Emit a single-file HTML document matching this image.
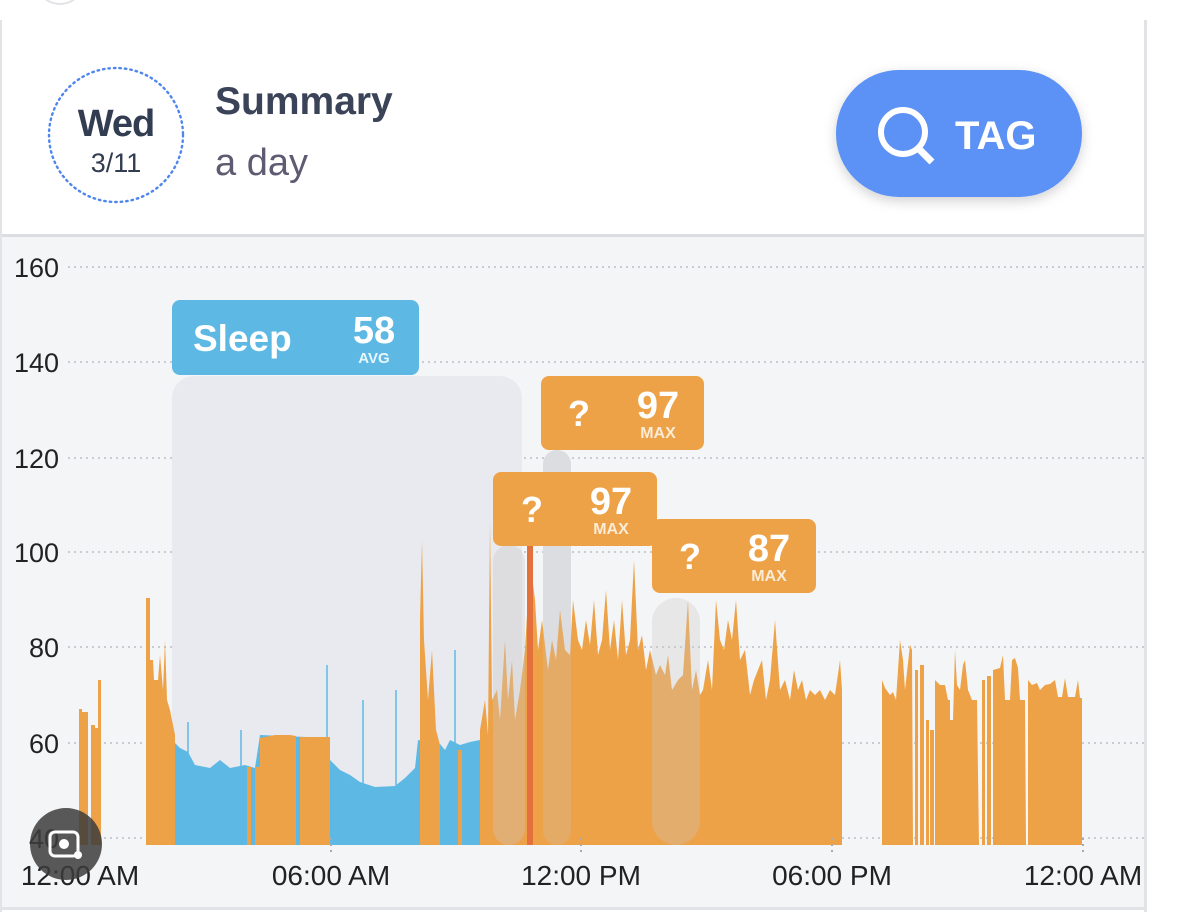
<!DOCTYPE html>
<html><head><meta charset="utf-8"><style>
html,body{margin:0;padding:0;background:#fff;width:1186px;height:912px;overflow:hidden}
svg text{font-family:"Liberation Sans",Arial,sans-serif}
</style></head><body>
<svg width="1186" height="912" viewBox="0 0 1186 912" xmlns="http://www.w3.org/2000/svg">
<defs>
<filter id="sh" x="-20%" y="-30%" width="140%" height="160%"><feDropShadow dx="0" dy="4" stdDeviation="6" flood-color="#000" flood-opacity="0.18"/></filter>
</defs>
<rect width="1186" height="912" fill="#fff"/>
<circle cx="60" cy="-20" r="24" fill="none" stroke="#e2e3e6" stroke-width="2"/>
<rect x="1144" y="20" width="3" height="892" fill="#e2e3e6"/>
<rect x="0" y="20" width="2" height="892" fill="#e2e3e6"/>
<!-- header -->
<circle cx="116" cy="135" r="67" fill="none" stroke="#4e86ee" stroke-width="2.4" stroke-dasharray="1.5 4" stroke-linecap="round"/>
<text x="116" y="136" text-anchor="middle" font-size="38" font-weight="bold" fill="#333d52" letter-spacing="-1">Wed</text>
<text x="116" y="172" text-anchor="middle" font-size="27" fill="#333d52">3/11</text>
<text x="215" y="114" font-size="39" font-weight="bold" fill="#3b4358">Summary</text>
<text x="215" y="175" font-size="38" fill="#5f5b72">a day</text>
<rect x="836" y="70" width="246" height="127" rx="63" fill="#5b91f5" filter="url(#sh)"/>
<circle cx="903" cy="132" r="22" fill="none" stroke="#fff" stroke-width="6"/>
<line x1="918" y1="148" x2="932" y2="162" stroke="#fff" stroke-width="7"/>
<text x="955" y="149" font-size="40" font-weight="bold" fill="#fff">TAG</text>
<!-- chart bg -->
<rect x="2" y="234" width="1142" height="3" fill="#dcdde0"/>
<rect x="2" y="237" width="1142" height="670" fill="#f4f5f7"/>
<rect x="2" y="907" width="1142" height="3" fill="#e2e3e6"/>
<g stroke="#c9ccd2" stroke-width="2" stroke-dasharray="2 4">
<line x1="68" y1="267" x2="1144" y2="267"/><line x1="68" y1="362" x2="1144" y2="362"/>
<line x1="68" y1="458" x2="1144" y2="458"/><line x1="68" y1="552" x2="1144" y2="552"/>
<line x1="68" y1="647" x2="1144" y2="647"/><line x1="68" y1="743" x2="1144" y2="743"/>
<line x1="68" y1="838" x2="1144" y2="838"/>
</g>
<g font-size="27" fill="#222" text-anchor="end">
<text x="59" y="277">160</text><text x="59" y="372">140</text><text x="59" y="468">120</text>
<text x="59" y="562">100</text><text x="59" y="657">80</text><text x="59" y="753">60</text><text x="59" y="848">40</text>
</g>
<g font-size="28" fill="#222" text-anchor="middle">
<text x="80" y="885">12:00 AM</text><text x="331" y="885">06:00 AM</text><text x="581" y="885">12:00 PM</text>
<text x="832" y="885">06:00 PM</text><text x="1083" y="885">12:00 AM</text>
</g>
<!-- sleep region -->
<rect x="172" y="376" width="350" height="469" rx="22" fill="#e9eaef"/>
<rect x="543" y="450" width="28" height="395" rx="14" fill="#e3e5ea"/>
<!-- blue -->
<path fill="#5db9e4" d="M172,845 L172,740 L180,748 L188,752 L195,765 L210,768 L220,760 L230,768 L245,765 L255,768 L260,735 L330,738 L330,760 L340,770 L350,775 L360,782 L375,787 L395,786 L405,778 L415,768 L418,740 L440,744 L445,750 L450,740 L460,745 L470,742 L480,740 L480,845 Z"/>
<g stroke="#5db9e4" stroke-width="1.5"><line x1="188" y1="845" x2="188" y2="722"/><line x1="241" y1="845" x2="241" y2="730"/><line x1="327" y1="845" x2="327" y2="665"/><line x1="363" y1="845" x2="363" y2="700"/><line x1="396" y1="845" x2="396" y2="690"/><line x1="455" y1="845" x2="455" y2="650"/></g>
<!-- orange -->
<g fill="#eea247">
<rect x="79" y="709" width="3" height="136"/><rect x="82" y="712" width="6" height="133"/>
<rect x="91" y="725" width="4" height="120"/><rect x="95" y="728" width="3" height="117"/><rect x="98" y="680" width="3" height="165"/>
<path d="M146,845 L146,598 L150,598 L150,660 L153,660 L154,680 L158,680 L160,655 L163,690 L165,640 L167,700 L170,710 L175,735 L175,845 Z"/>
<rect x="247" y="767" width="4" height="78"/><rect x="255" y="767" width="5" height="78"/>
<path d="M260,845 L260,738 L275,735 L290,735 L296,736 L296,845 Z"/>
<path d="M300,845 L300,737 L330,737 L330,845 Z"/>
<path d="M420,845 L420,620 L422,540 L424,640 L428,700 L432,650 L436,730 L440,745 L440,845 Z"/>
<rect x="458" y="750" width="4" height="95"/>
<path d="M480,845 L480,730 L485,700 L488,735 L490,520 L492,700 L497,690 L500,720 L505,640 L508,700 L512,660 L515,720 L520,690 L525,650 L530,560 L535,600 L538,650 L542,620 L548,670 L552,640 L556,660 L560,610 L565,650 L570,655 L573,600 L578,640 L582,650 L586,620 L590,645 L594,600 L598,655 L602,640 L606,590 L610,650 L614,620 L618,660 L622,600 L626,655 L630,640 L634,560 L638,650 L642,635 L646,670 L650,650 L656,675 L660,665 L665,675 L668,655 L672,690 L678,680 L683,675 L688,600 L692,690 L696,670 L700,695 L703,690 L708,660 L712,690 L716,600 L720,640 L724,650 L728,620 L732,640 L736,600 L740,660 L745,650 L750,695 L754,680 L758,670 L762,660 L766,700 L770,680 L775,620 L780,690 L785,680 L790,700 L794,670 L798,690 L802,680 L806,700 L810,690 L815,695 L820,690 L825,700 L830,690 L835,695 L840,660 L842,690 L842,845 Z"/>
<path d="M882,845 L882,680 L885,688 L890,695 L893,692 L896,700 L900,640 L903,660 L905,690 L910,645 L912,650 L913,845 Z"/>
<rect x="915" y="670" width="3" height="175"/><rect x="920" y="665" width="4" height="180"/><rect x="926" y="720" width="3" height="125"/><rect x="930" y="730" width="4" height="115"/>
<path d="M935,845 L935,680 L940,685 L945,685 L948,700 L950,700 L950,720 L953,720 L955,650 L957,685 L960,690 L963,665 L965,660 L968,690 L972,700 L977,700 L979,845 Z"/>
<rect x="982" y="680" width="3" height="165"/><rect x="987" y="676" width="4" height="169"/>
<path d="M993,845 L993,670 L1000,668 L1003,655 L1005,700 L1010,700 L1012,660 L1015,658 L1018,668 L1020,700 L1025,700 L1026,845 Z"/>
<path d="M1028,845 L1028,680 L1032,685 L1037,683 L1040,690 L1045,685 L1050,684 L1055,680 L1058,697 L1062,697 L1065,678 L1068,697 L1075,697 L1078,680 L1080,698 L1082,698 L1082,845 Z"/>
</g>
<!-- translucent pills over orange -->
<rect x="493" y="545" width="32" height="300" rx="16" fill="#c9c6c6" fill-opacity="0.35"/>
<rect x="543" y="450" width="28" height="395" rx="14" fill="#c9c6c6" fill-opacity="0.25"/>
<rect x="652" y="598" width="48" height="247" rx="24" fill="#c9c6c6" fill-opacity="0.3"/>
<rect x="527" y="545" width="6" height="300" fill="#e4703c"/>
<!-- labels -->
<rect x="172" y="300" width="247" height="75" rx="8" fill="#5db9e4"/>
<text x="193" y="351" font-size="37" font-weight="bold" fill="#fff">Sleep</text>
<text x="374" y="343" font-size="38" font-weight="bold" fill="#fff" text-anchor="middle">58</text>
<text x="374" y="363" font-size="15" font-weight="bold" fill="#e8f6fd" text-anchor="middle">AVG</text>
<g>
<rect x="541" y="376" width="163" height="74" rx="8" fill="#eea247"/>
<text x="579" y="426" font-size="36" font-weight="bold" fill="#fff" text-anchor="middle">?</text>
<text x="658" y="418" font-size="38" font-weight="bold" fill="#fff" text-anchor="middle">97</text>
<text x="658" y="438" font-size="16" font-weight="bold" fill="#fbecd8" text-anchor="middle">MAX</text>
<rect x="493" y="472" width="164" height="74" rx="8" fill="#eea247"/>
<text x="532" y="522" font-size="36" font-weight="bold" fill="#fff" text-anchor="middle">?</text>
<text x="611" y="514" font-size="38" font-weight="bold" fill="#fff" text-anchor="middle">97</text>
<text x="611" y="534" font-size="16" font-weight="bold" fill="#fbecd8" text-anchor="middle">MAX</text>
<rect x="652" y="519" width="164" height="74" rx="8" fill="#eea247"/>
<text x="690" y="569" font-size="36" font-weight="bold" fill="#fff" text-anchor="middle">?</text>
<text x="769" y="561" font-size="38" font-weight="bold" fill="#fff" text-anchor="middle">87</text>
<text x="769" y="581" font-size="16" font-weight="bold" fill="#fbecd8" text-anchor="middle">MAX</text>
</g>
<g stroke="#aaa" stroke-width="2" stroke-dasharray="2 4"><line x1="331" y1="838" x2="331" y2="852"/><line x1="581" y1="838" x2="581" y2="852"/><line x1="832" y1="838" x2="832" y2="852"/><line x1="1083" y1="838" x2="1083" y2="852"/></g>
<!-- lens overlay -->
<circle cx="66" cy="844" r="36" fill="#3c3c3c" fill-opacity="0.85"/>
<rect x="50" y="832" width="28" height="24" rx="5" fill="none" stroke="#fff" stroke-width="3"/>
<circle cx="64" cy="844" r="5" fill="#fff"/><circle cx="78" cy="855" r="4" fill="#fff"/>
</svg>
</body></html>
